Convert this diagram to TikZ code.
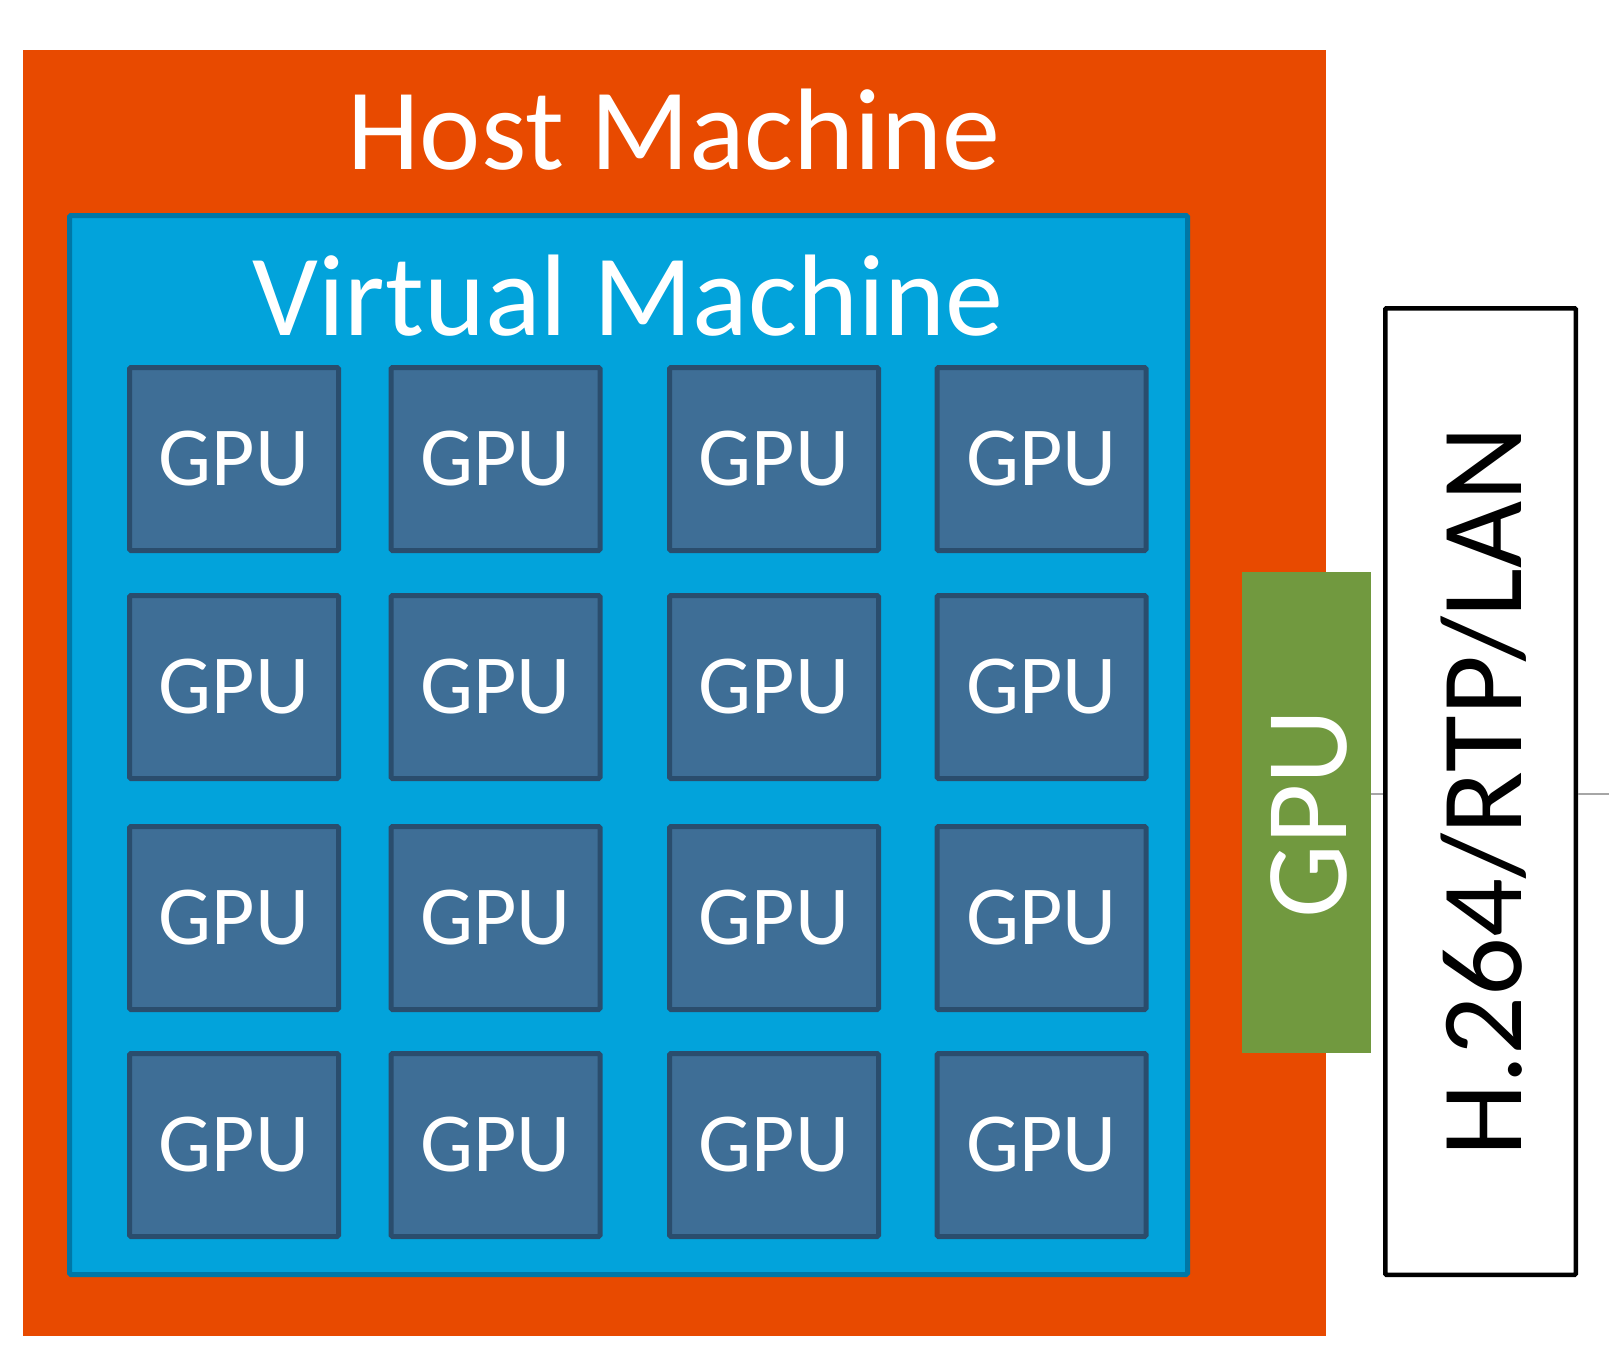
\documentclass[tikz,border=0pt]{standalone}
\usepackage{fontspec}
\setmainfont{Carlito}
\usepackage{tikz}

\definecolor{hostorange}{RGB}{232,74,0}
\definecolor{vmblue}{RGB}{2,163,219}
\definecolor{vmedge}{RGB}{0,119,166}
\definecolor{gpufill}{RGB}{62,110,150}
\definecolor{gpuedge}{RGB}{42,77,109}
\definecolor{gpugreen}{RGB}{113,153,63}

\tikzset{
  gpubox/.style={draw=gpuedge, fill=gpufill, line width=5pt, rounded corners=1.5pt,
    minimum width=209pt, minimum height=183pt, inner sep=0pt, text=white,
    font=\fontsize{84}{84}\selectfont},
  bigtext/.style={inner sep=0pt, anchor=base, font=\fontsize{116}{116}\selectfont}
}

\begin{document}
\begin{tikzpicture}[x=1pt, y=-1pt]
\useasboundingbox (0,0) rectangle (1609,1350);
% host and vm frames
\node [fill=hostorange, minimum width=1303pt, minimum height=1286pt, inner sep=0pt] (host) at (674.5,693) {};
\node [bigtext, text=white] (hostlabel) at (674,169) {Host Machine};
\node [draw=vmedge, fill=vmblue, line width=5pt, rounded corners=1.5pt, minimum width=1118pt, minimum height=1059pt, inner sep=0pt] (vm) at (628.5,745) {};
\node [bigtext, text=white] (vmlabel) at (628,335) {Virtual Machine};
% the 4x4 grid of guest gpus
\node [gpubox] (g11) at (234,459) {GPU};
\node [gpubox] (g12) at (495.5,459) {GPU};
\node [gpubox] (g13) at (774,459) {GPU};
\node [gpubox] (g14) at (1041.5,459) {GPU};
\node [gpubox] (g21) at (234,687) {GPU};
\node [gpubox] (g22) at (495.5,687) {GPU};
\node [gpubox] (g23) at (774,687) {GPU};
\node [gpubox] (g24) at (1041.5,687) {GPU};
\node [gpubox] (g31) at (234,918) {GPU};
\node [gpubox] (g32) at (495.5,918) {GPU};
\node [gpubox] (g33) at (774,918) {GPU};
\node [gpubox] (g34) at (1041.5,918) {GPU};
\node [gpubox] (g41) at (234,1145) {GPU};
\node [gpubox] (g42) at (495.5,1145) {GPU};
\node [gpubox] (g43) at (774,1145) {GPU};
\node [gpubox] (g44) at (1041.5,1145) {GPU};
% host gpu and the stream box
\node [fill=gpugreen, minimum width=129pt, minimum height=481pt, inner sep=0pt] (hostgpu) at (1306.5,812.5) {};
\node [bigtext, text=white, rotate=90, font=\fontsize{117}{117}\selectfont] (hostgpulabel) at (1346,814) {GPU};
\node [draw=black, fill=white, line width=4.5pt, rounded corners=1pt, minimum width=190.5pt, minimum height=966.5pt, inner sep=0pt] (stream) at (1480.5,791.5) {};
\node [bigtext, text=black, rotate=90] (streamlabel) at (1521,791.5) {H.264/RTP/LAN};
\coordinate (out) at (1609,794);
\draw [line width=2pt, color=black!35] (hostgpu.east |- out) -- (stream.west |- out);
\draw [line width=2pt, color=black!35] (stream.east |- out) -- (out);
\end{tikzpicture}
\end{document}
